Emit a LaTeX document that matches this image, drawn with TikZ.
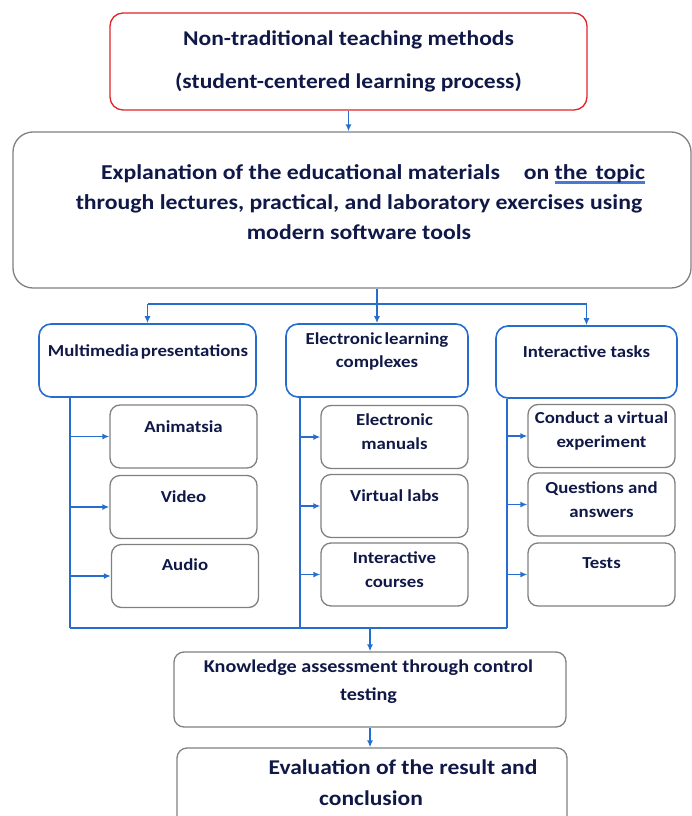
\documentclass[tikz,border=0pt]{standalone}
\usepackage{fontspec}
\setmainfont{Carlito}[FakeStretch=1.12]
\usetikzlibrary{
  calc,
  arrows, arrows.meta,
}
\definecolor{navy}{RGB}{16,24,72}
\definecolor{lineblue}{RGB}{38,110,205}
\definecolor{ulblue}{RGB}{70,120,215}
\definecolor{boxred}{RGB}{225,35,40}
\definecolor{boxgray}{RGB}{128,128,128}
\newcommand\blueline[1]{\setbox0\hbox{#1}\rlap{\textcolor{ulblue}{\rule[-4.5pt]{\wd0}{2.8pt}}}\box0}

\begin{document}
\begin{tikzpicture}[
    x=1pt, y=-1pt,
    arr/.style={line width=1.5pt, lineblue},
    tip/.style={-{Latex[length=7pt, width=6pt]}},
    lab/.style={font=\bfseries\fontsize{16.8}{24}\selectfont, text=navy, align=center, inner sep=0pt},
    big/.style={font=\bfseries\fontsize{21.2}{30}\selectfont},
    box/.style={draw=boxgray, line width=1.3pt, rounded corners=10pt, inner sep=0pt},
    headbox/.style={draw=lineblue, line width=1.6pt, rounded corners=12pt, inner sep=0pt},
    size/.style 2 args={minimum width=#1, minimum height=#2},
  ]
  \useasboundingbox (0,0) rectangle (691,816);

  % main chain
  \node[box, draw=boxred, rounded corners=13pt, size={477}{97}] (top) at (348.5,61.5) {};
  \node[lab, font=\bfseries\fontsize{21}{43}\selectfont] (topT) at (348.5,61.5)
  {Non-traditional teaching methods\\(student-centered learning process)};

  \node[box, rounded corners=20pt, size={678}{156}] (expl) at (352,210) {};
  \node[lab, big] (explT) at (359,202)
  {\hspace*{28pt}Explanation of the educational materials\hspace{24pt}on \blueline{the\hspace{8pt}topic}\\
    through lectures, practical, and laboratory exercises\hspace{6pt}using\\
    modern software tools};

  % second level
  \node[headbox, size={217}{73}] (mm) at (147.5,360.5) {};
  \node[lab] (mmT) at (148,352) {Multimedia\hspace{2pt}presentations};
  \node[headbox, size={182}{73}] (elc) at (377,360.5) {};
  \node[lab, font=\bfseries\fontsize{16.8}{23}\selectfont] (elcT) at (377,351.5) {Electronic\hspace{2pt}learning\\complexes};
  \node[headbox, size={181}{72}] (itask) at (586.5,362) {};
  \node[lab] (itaskT) at (586.5,352) {Interactive tasks};

  % leaves
  \foreach \n/\x/\y/\t/\s in {
      anim/183.5/436.5/427/Animatsia,
      video/183.5/507/497/Video,
      audio/185/576/565/Audio,
      eman/394.5/437/432/{Electronic\\manuals},
      vlab/394.5/506/496/Virtual labs,
      icour/394.5/574.5/569.5/{Interactive\\courses},
      cond/601.5/436/431/{Conduct a virtual\\experiment},
      qa/601.5/504.5/500/{Questions and\\answers},
      tests/601.5/574.5/563/Tests} {
      \node[box, size={147}{63}] (\n) at (\x,\y) {};
      \node[lab] (\n T) at (\x,\t) {\s};
    }

  \node[box, size={392}{75}] (know) at (370,689.5) {};
  \node[lab, font=\bfseries\fontsize{18}{28}\selectfont] (knowT) at (368.5,682)
  {Knowledge assessment through control\\testing};
  \node[box, size={390}{90}] (eval) at (372,793) {};
  \node[lab, font=\bfseries\fontsize{21}{31}\selectfont] (evalT) at (371,782.5)
  {\hspace*{64pt}Evaluation of the result and\\conclusion};

  % connectors
  \coordinate (fork) at (0,304);
  \coordinate (ybot) at (0,628);
  \coordinate (mmD) at ([xshift=32pt]mm.south west);
  \coordinate (elcD) at ([xshift=15pt]elc.south west);
  \coordinate (itD) at ([xshift=12pt]itask.south west);
  \coordinate (join) at (know.north |- ybot);

  \draw[arr, tip] (top.south) -- (top.south |- expl.north);
  \draw[arr, tip] (expl.south -| elc.north) -- (elc.north);
  \draw[arr, tip] (mm.north |- fork) -- (mm.north);
  \draw[arr, tip] (mm.north |- fork) -- (itask.north |- fork) -- (itask.north);

  \foreach \d/\a/\b/\c in {mmD/anim/video/audio, elcD/eman/vlab/icour, itD/cond/qa/tests} {
      \draw[arr] (\d) -- (\d |- ybot);
      \foreach \l in {\a,\b,\c} {
          \draw[arr, tip] (\d |- \l.west) -- (\l.west);
        }
    }
  \draw[arr] (mmD |- ybot) -- (itD |- ybot);
  \draw[arr, tip] (join) -- (know.north);
  \draw[arr, tip] (know.south) -- (know.south |- eval.north);
\end{tikzpicture}
\end{document}
